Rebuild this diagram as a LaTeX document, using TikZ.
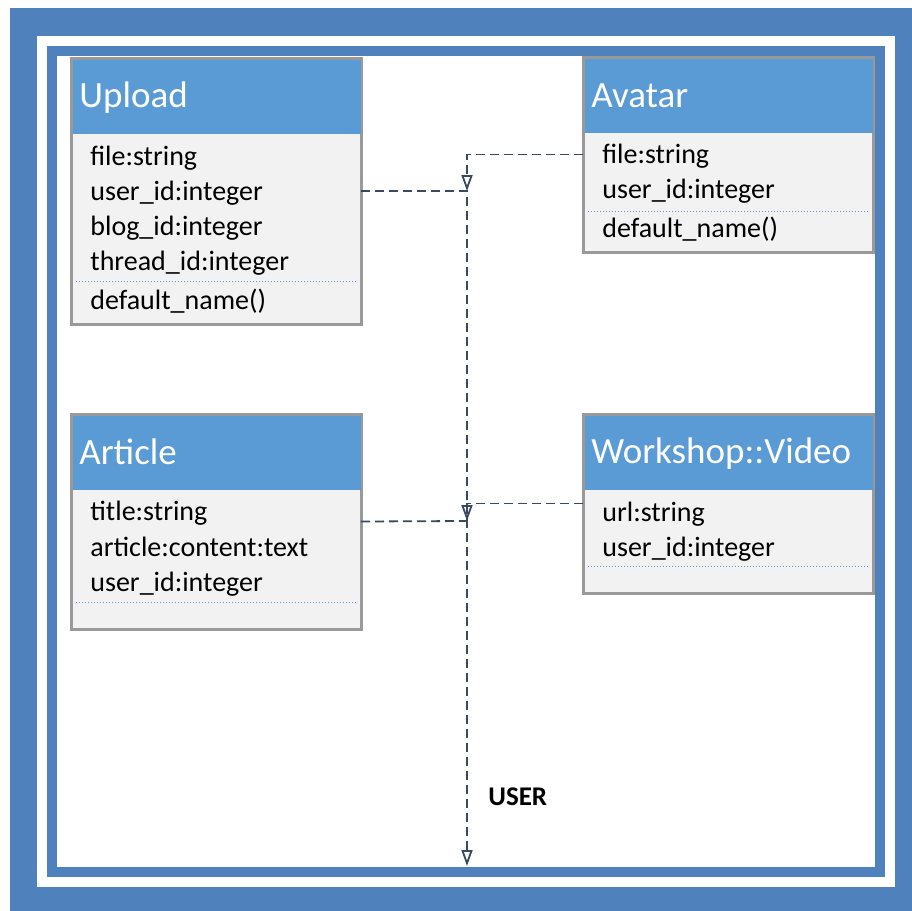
\documentclass[tikz,border=0pt]{standalone}
\usepackage{fontspec}
\setmainfont{Carlito}
\usetikzlibrary{arrows.meta}
\definecolor{framblue}{HTML}{4F81BD}
\definecolor{headblue}{HTML}{5B9BD5}
\definecolor{bodygray}{HTML}{F2F2F2}
\definecolor{linegray}{HTML}{3A4A5C}
\tikzset{
  cls/.style={draw=black!40, line width=1.5pt, fill=bodygray, outer sep=0pt, inner sep=0pt, minimum width=145pt},
  hd/.style={fill=headblue, anchor=north west, outer sep=0pt, inner sep=0pt, minimum width=144pt, minimum height=37pt},
  ttl/.style={anchor=base west, inner sep=0pt, text=white, font=\fontsize{18.5pt}{22pt}\selectfont},
  attr/.style={anchor=base west, inner sep=0pt, font=\fontsize{14pt}{17pt}\selectfont},
  sep/.style={draw=headblue, line width=0.5pt, dash pattern=on 0.5pt off 1pt},
  dep/.style={draw=linegray, line width=0.9pt, dash pattern=on 4.5pt off 2.5pt},
  tip/.style={-{Triangle[open, length=8pt, width=5.5pt]}}
}
\begin{document}
\begin{tikzpicture}[x=0.5pt, y=-0.5pt]
  \useasboundingbox (0,0) rectangle (912,911);
  \fill[framblue] (10,8) rectangle (912,911);
  \fill[white] (37,36) rectangle (895,887);
  \fill[framblue] (47,46) rectangle (885,877);
  \fill[white] (57,56) rectangle (875,867);

  \node[cls, minimum height=133pt] (upload) at (216,191) {};
  \node[hd] (uploadhd) at ([shift={(0.75pt,-0.75pt)}]upload.north west) {};
  \node[ttl] (uploadttl) at (79,107) {Upload};
  \node[attr] (upfile) at (90,165) {file:string};
  \node[attr] (upuser) at (90,200) {user\_id:integer};
  \node[attr] (upblog) at (90,235) {blog\_id:integer};
  \node[attr] (upthread) at (90,270) {thread\_id:integer};
  \draw[sep] (76,281) -- (357,281);
  \node[attr] (upname) at (90,309) {default\_name()};

  \node[cls, minimum height=97.5pt] (avatar) at (728,154.5) {};
  \node[hd] (avatarhd) at ([shift={(0.75pt,-0.75pt)}]avatar.north west) {};
  \node[ttl] (avatarttl) at (591,107) {Avatar};
  \node[attr] (avfile) at (602,163) {file:string};
  \node[attr] (avuser) at (602,198) {user\_id:integer};
  \draw[sep] (588,211) -- (868,211);
  \node[attr] (avname) at (602,237) {default\_name()};

  \node[cls, minimum height=107.5pt] (article) at (216,521.5) {};
  \node[hd] (articlehd) at ([shift={(0.75pt,-0.75pt)}]article.north west) {};
  \node[ttl] (articlettl) at (79,464) {Article};
  \node[attr] (artitle) at (90,520) {title:string};
  \node[attr] (arcontent) at (90,556) {article:content:text};
  \node[attr] (aruser) at (90,591) {user\_id:integer};
  \draw[sep] (76,602) -- (357,602);

  \node[cls, minimum height=89.5pt] (video) at (728,503.5) {};
  \node[hd] (videohd) at ([shift={(0.75pt,-0.75pt)}]video.north west) {};
  \node[ttl] (videottl) at (591,463) {Workshop::Video};
  \node[attr] (viurl) at (602,521) {url:string};
  \node[attr] (viuser) at (602,556) {user\_id:integer};
  \draw[sep] (588,566) -- (868,566);

  \coordinate (j1) at (467,191);
  \coordinate (j2) at (467,521);
  \coordinate (user) at (467,866);
  \draw[dep, tip] (avatar.west) -| (j1);
  \draw[dep, tip] (upload.east) -- (j1) -- (user);
  \draw[dep, tip] (video.west) -| (j2);
  \draw[dep] (article.east) -- (j2);
  \node[anchor=base west, inner sep=0pt, font=\bfseries\fontsize{13.5pt}{16pt}\selectfont] (userlbl) at (488,805) {USER};
\end{tikzpicture}
\end{document}
